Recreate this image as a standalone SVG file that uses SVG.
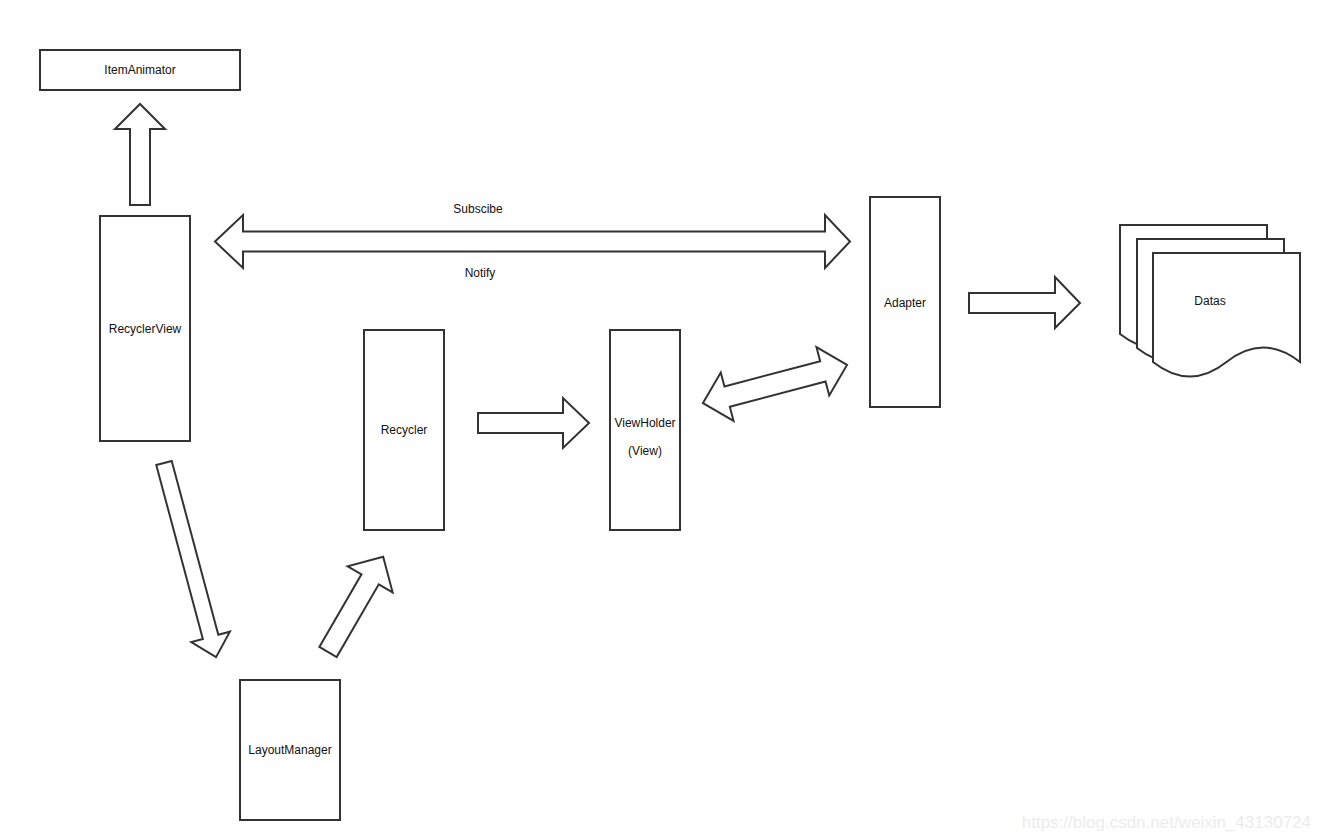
<svg xmlns="http://www.w3.org/2000/svg" width="1320" height="840" viewBox="0 0 1320 840">
<style>
.box{fill:#fff;stroke:#333;stroke-width:2}
.arr{fill:#fff;stroke:#333;stroke-width:2;stroke-linejoin:miter}
.lbl{font-family:"Liberation Sans",Arial,sans-serif;font-size:12px;fill:#111;text-anchor:middle;dominant-baseline:central}
.wm{font-family:"Liberation Sans",Arial,sans-serif;font-size:17px;fill:#ececec;text-anchor:end}
</style>
<defs>
<path id="doc" d="M1153,253 H1300 V362 Q1263,333 1226.5,362 Q1190,391 1153,362 Z"/>
</defs>
<rect width="1320" height="840" fill="#fff"/>
<g id="connectors">
<path class="arr" d="M130,205 L130,129 L115,129 L140,104 L165,129 L150,129 L150,205 Z"/>
<path class="arr" d="M215,241.5 L243,215 L243,231.5 L825,231.5 L825,215 L850,241.5 L825,268 L825,251.5 L243,251.5 L243,268 Z"/>
<path class="arr" d="M969,293 L1055,293 L1055,277 L1080,303 L1055,328 L1055,313 L969,313 Z"/>
<path class="arr" d="M478,413 L563,413 L563,398 L589,423 L563,448 L563,433 L478,433 Z"/>
<path class="arr" transform="translate(775,384) rotate(-14.8)" d="M-74.5,0 L-49.5,-25 L-49.5,-10.5 L49.5,-10.5 L49.5,-25 L74.5,0 L49.5,25 L49.5,10.5 L-49.5,10.5 L-49.5,25 Z"/>
<path class="arr" transform="translate(164,463) rotate(75)" d="M0,-8 L180,-8 L180,-20 L201,0 L180,20 L180,8 L0,8 Z"/>
<path class="arr" transform="translate(328,652) rotate(-59.9)" d="M0,-10 L84,-10 L84,-26 L110,0 L84,26 L84,10 L0,10 Z"/>
<text class="lbl" x="478" y="209">Subscibe</text>
<text class="lbl" x="480" y="273">Notify</text>
</g>
<g id="itemanimator">
<rect class="box" x="40" y="50" width="200" height="40"/>
<text class="lbl" x="140" y="70">ItemAnimator</text>
</g>
<g id="recyclerview">
<rect class="box" x="100" y="216" width="90" height="225"/>
<text class="lbl" x="145" y="329">RecyclerView</text>
</g>
<g id="adapter">
<rect class="box" x="870" y="197" width="70" height="210"/>
<text class="lbl" x="905" y="303">Adapter</text>
</g>
<g id="recycler">
<rect class="box" x="364" y="330" width="80" height="200"/>
<text class="lbl" x="404" y="430">Recycler</text>
</g>
<g id="viewholder">
<rect class="box" x="610" y="330" width="70" height="200"/>
<text class="lbl" x="645" y="423">ViewHolder</text>
<text class="lbl" x="645" y="451">(View)</text>
</g>
<g id="layoutmanager">
<rect class="box" x="240" y="680" width="100" height="140"/>
<text class="lbl" x="290" y="750">LayoutManager</text>
</g>
<g id="datas">
<use href="#doc" class="box" transform="translate(-33,-28)"/>
<use href="#doc" class="box" transform="translate(-16,-14)"/>
<use href="#doc" class="box"/>
<text class="lbl" x="1210" y="301">Datas</text>
</g>
<text class="wm" x="1311" y="828">https://blog.csdn.net/weixin_43130724</text>
</svg>
